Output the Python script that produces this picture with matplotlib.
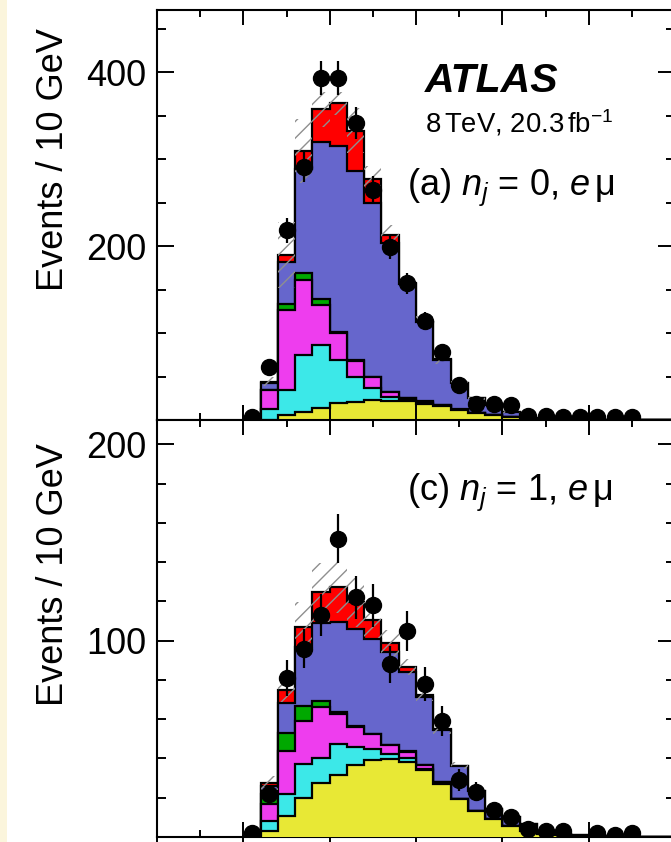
import numpy as np
import matplotlib
matplotlib.use("Agg")
import matplotlib.pyplot as plt
from matplotlib.patches import Rectangle
from matplotlib.ticker import MultipleLocator, FixedLocator

plt.rcParams['font.family'] = ['Liberation Sans', 'DejaVu Sans']
plt.rcParams['mathtext.fontset'] = 'custom'
plt.rcParams['mathtext.rm'] = 'Liberation Sans'
plt.rcParams['mathtext.it'] = 'Liberation Sans:italic'
plt.rcParams['mathtext.bf'] = 'Liberation Sans:bold'
plt.rcParams['hatch.linewidth'] = 1.0

# m_T bins of 10 GeV from 50 to 300 GeV
edges = np.arange(50, 310, 10)
centres = edges[:-1] + 5

# ---- panel (a): n_j = 0, e mu ----
a_top   = [0, 0.5, 5.7, 9.5, 13.4, 19, 21, 23, 22, 22, 18.3, 16, 11.5, 7.6, 5.3, 3, 1, 0.5, 0.3, 0.2, 0.1, 0.1, 0.05, 0.05, 0]
a_misid = [0, 11.7, 28.7, 65, 73.3, 49.8, 28, 13.3, 4.7, 1.5, 0.7, 0.3, 0.2, 0.1, 0, 0, 0, 0, 0, 0, 0, 0, 0, 0, 0]
a_vv    = [0, 22.3, 92.6, 86.5, 45.9, 31.2, 19, 12.7, 5.8, 1.3, 2, 0.5, 0.3, 0.1, 0.1, 0.1, 0, 0, 0, 0, 0, 0, 0, 0, 0]
a_dy    = [0, 0.5, 6.7, 8, 6.1, 1, 0.5, 0.2, 0.2, 0.2, 0.5, 0.2, 0.1, 0, 0, 0, 0, 0, 0, 0, 0, 0, 0, 0, 0]
a_ww    = [0, 8, 47.8, 119, 180.3, 214, 218, 199.8, 170.3, 131.6, 91.2, 52.5, 29.9, 17, 11.8, 5.7, 1.5, 0.7, 0.5, 0.3, 0.2, 0.1, 0.1, 0.05, 0.05]
a_higgs = [0, 1, 8.5, 21, 38, 49, 45.9, 28, 10, 1.4, 0.3, 0.2, 0.1, 0, 0, 0, 0, 0, 0, 0, 0, 0, 0, 0, 0]
a_unc   = [0, 5, 38, 37, 20, 13, 26, 15, 11, 9, 7, 5, 3, 2, 1.5, 1, 0.3, 0.2, 0.1, 0.1, 0, 0, 0, 0, 0]
a_data  = [4, 61, 218, 291, 393, 393, 341, 264, 199, 157, 114, 78, 40, 18, 18, 17, 5, 5, 4, 4, 4, 4, 4, 0, 0]

# ---- panel (c): n_j = 1, e mu ----
c_top   = [0, 3, 10.7, 20, 27.7, 31.6, 36.7, 39.1, 39.6, 38.2, 34, 26.9, 19.2, 13.3, 9, 5.6, 3, 1.5, 0.8, 0.5, 0.3, 0.2, 0.1, 0.1, 0.05]
c_misid = [0, 5.2, 11.1, 17, 12.3, 16, 9.2, 5.6, 2.9, 1.9, 0.6, 0.3, 0.1, 0.05, 0, 0, 0, 0, 0, 0, 0, 0, 0, 0, 0]
c_vv    = [0, 8.5, 22.1, 22, 26.3, 15, 10.2, 7.7, 4.4, 3.3, 2.1, 0.6, 0.1, 0.05, 0, 0, 0, 0, 0, 0, 0, 0, 0, 0, 0]
c_dy    = [0, 5.1, 9, 7.8, 3.1, 0.9, 0.5, 0.2, 0.2, 0.2, 0.1, 0.1, 0, 0, 0, 0, 0, 0, 0, 0, 0, 0, 0, 0, 0]
c_ww    = [0, 4.2, 15.6, 29.8, 39.4, 45.8, 49.3, 48.3, 47, 40.2, 34.6, 26.7, 16.9, 10.2, 5.1, 4.4, 3.5, 1.5, 0.7, 0.4, 0.2, 0.1, 0.1, 0.05, 0.05]
c_higgs = [0, 1.4, 6.3, 10.4, 15.9, 17.9, 13.6, 9.6, 4.7, 2.7, 0.9, 0.2, 0.1, 0, 0, 0, 0, 0, 0, 0, 0, 0, 0, 0, 0]
c_unc   = [0, 3.5, 6, 12.5, 15, 13, 12.5, 9, 6.5, 4, 3, 2.5, 2, 1.5, 1, 0.8, 0.5, 0.3, 0.2, 0.1, 0, 0, 0, 0, 0]
c_data  = [2, 22, 81, 96, 113, 152, 122, 118, 88, 105, 78, 59, 29, 23, 14, 10, 4, 3, 3, 0, 2, 1, 2, 0, 0]

# stack order, bottom to top
colours = ['#E8E835', '#3CE8E8', '#EE3DEE', '#00A800', '#6666CC', '#FF0000']

W, H = 671, 842
fig = plt.figure(figsize=(W / 100, H / 100), dpi=100)
fig.patches.append(Rectangle((0, 0), 7 / W, 1, transform=fig.transFigure,
                             facecolor='#FBF5DC', edgecolor='none', zorder=0))

x0, x1 = 157, 675
ax_a = fig.add_axes([x0 / W, (H - 420) / H, (x1 - x0) / W, 410 / H])
ax_c = fig.add_axes([x0 / W, (H - 837) / H, (x1 - x0) / W, 417 / H])


def draw_panel(ax, comps, data, unc, ymax, ymajor, yminor, label, label_y):
    comps = np.array(comps, dtype=float)
    cum = np.cumsum(comps, axis=0)
    z = 1
    for i in range(len(comps) - 1, -1, -1):
        ax.stairs(cum[i], edges, baseline=0, fill=True, facecolor=colours[i],
                  edgecolor='none', zorder=z)
        ax.stairs(cum[i], edges, baseline=0, fill=False, color='black',
                  linewidth=1.6, zorder=z + 0.5)
        z += 1
    total = cum[-1]
    unc = np.array(unc, dtype=float)
    ax.stairs(total + unc, edges, baseline=total - unc, fill=True,
              facecolor='none', edgecolor='#8f8f8f', linewidth=0,
              hatch='//', zorder=z)
    data = np.array(data, dtype=float)
    m = data > 0
    ax.errorbar(centres[m], data[m], yerr=np.sqrt(data[m]), fmt='o',
                color='black', ms=11.5, elinewidth=1.6, capsize=0,
                zorder=z + 1)

    ax.set_xlim(0, 300)
    ax.set_ylim(0, ymax)
    ax.xaxis.set_major_locator(MultipleLocator(50))
    ax.xaxis.set_minor_locator(MultipleLocator(25))
    ax.yaxis.set_major_locator(FixedLocator(ymajor))
    ax.yaxis.set_minor_locator(MultipleLocator(yminor))
    ax.tick_params(which='both', direction='in', top=True, right=True,
                   width=1.4, labelbottom=False)
    ax.tick_params(axis='y', which='major', length=12.2, labelsize=26, pad=7.5)
    ax.tick_params(axis='y', which='minor', length=6.5)
    ax.tick_params(axis='x', which='major', length=10.8)
    ax.tick_params(axis='x', which='minor', length=5)
    for s in ax.spines.values():
        s.set_linewidth(1.5)
    fig.text(407 / W, 1 - label_y / H, label, fontsize=26, ha='left',
             va='baseline')


draw_panel(ax_a, [a_top, a_misid, a_vv, a_dy, a_ww, a_higgs], a_data, a_unc,
           471.3, [200, 400], 50, r'(a) $n_j$ = 0, $e\,\mathrm{\mu}$', 195)
draw_panel(ax_c, [c_top, c_misid, c_vv, c_dy, c_ww, c_higgs], c_data, c_unc,
           212.4, [100, 200], 20, r'(c) $n_j$ = 1, $e\,\mathrm{\mu}$', 500)
ax_c.tick_params(axis='x', which='major', direction='inout', length=21.6,
                 top=False)
ax_c.tick_params(axis='x', which='major', top=True)

fig.text(425 / W, 1 - 92 / H, 'ATLAS', fontsize=29.5, fontweight='bold',
         fontstyle='italic', ha='left', va='baseline')
fig.text(425 / W, 1 - 133 / H, r'8$\,$TeV, 20.3$\,$fb$^{-1}$', fontsize=19.8,
         ha='left', va='baseline')

for ytop in (28, 443):
    fig.text(63 / W, 1 - ytop / H, 'Events / 10 GeV', fontsize=26,
             rotation=90, rotation_mode='anchor', ha='right', va='baseline')

fig.savefig('out.png', dpi=100)
